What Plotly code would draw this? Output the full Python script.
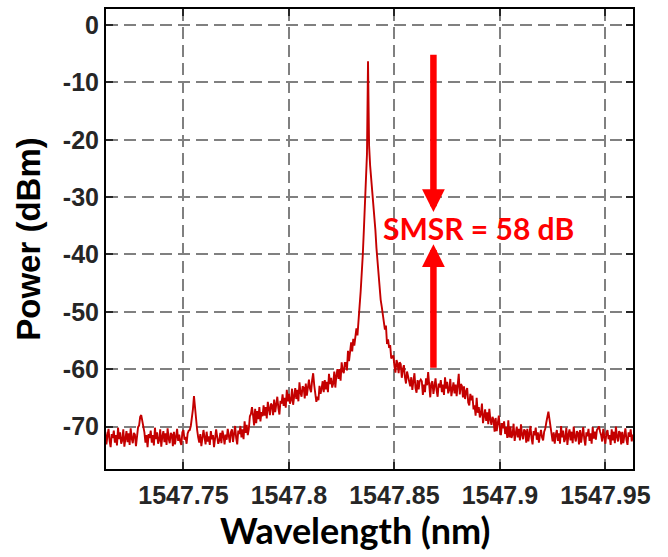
import plotly.graph_objects as go

# ---- data ----
WL_START = 1547.7130   # nm, first sample
WL_STEP = 0.0005       # nm, sample spacing

power_base_left = [
    -70.9, -73.1, -71.6, -70.4, -72.5, -73.6, -71.3, -72.0, -70.7, -72.8,
    -71.5, -73.3, -70.2, -72.2, -71.0, -73.0, -72.4, -70.5, -73.5, -71.7,
    -70.8, -72.7, -71.2, -73.2, -70.3, -72.1, -72.9, -71.1, -71.4, -73.4,
    -71.2, -70.1, -69.8, -68.3, -68.0, -69.0, -70.4, -71.0, -72.8, -71.5,
    -73.6, -71.3, -72.0, -70.7, -72.8, -71.5, -73.3, -70.2, -72.2, -71.0,
    -73.0, -72.4, -70.5, -73.5, -71.7, -70.8, -72.7, -71.2, -73.2, -70.3,
    -72.1, -72.9, -71.1, -71.4, -73.4, -70.9, -73.1, -71.6, -70.4, -72.5,
    -71.4, -72.6, -73.2, -71.0, -70.6, -72.3, -71.8, -73.0, -71.2, -70.7,
    -70.6, -69.9, -68.6, -67.0, -64.7, -66.9, -69.2, -70.6, -71.9, -72.8,
    -71.3, -73.4, -72.0, -70.6, -71.9, -73.1, -70.9, -72.6, -71.7, -73.2,
    -70.8, -72.2, -71.5, -73.6, -72.1, -70.5, -71.8, -73.0, -72.4, -71.1,
    -72.9, -70.7, -71.6, -73.1, -71.4, -72.3, -70.4, -71.9, -72.8, -71.0,
]

power_rise = [
    -70.5, -72.7, -71.2, -69.9, -72.0, -73.1, -70.7, -71.3, -69.9, -71.9,
    -70.5, -72.2, -69.1, -71.1, -69.7, -71.5, -70.4, -68.2, -67.8, -66.6,
    -68.0, -69.8, -66.9, -69.4, -67.3, -68.7, -66.6, -69.1, -67.5, -68.2,
    -66.3, -68.1, -66.6, -68.6, -65.7, -67.3, -68.0, -66.0, -66.3, -68.0,
    -65.3, -67.5, -66.0, -64.8, -66.8, -67.9, -65.5, -66.0, -64.4, -66.4,
    -65.0, -66.7, -63.6, -65.6, -64.3, -66.0, -65.4, -63.4, -66.2, -64.4,
    -63.3, -65.2, -63.6, -65.6, -62.3, -64.1, -64.8, -63.0, -63.2, -65.1,
    -62.5, -64.6, -63.0, -61.8, -63.4, -64.0, -61.9, -60.7, -62.8, -64.4,
    -65.7, -64.8, -65.4, -62.9, -64.3, -63.4, -62.1, -64.0, -61.9, -63.5,
    -62.2, -64.0, -60.8, -62.6, -61.5, -63.2, -62.5, -60.4, -63.2, -61.1,
    -60.0, -61.7, -60.0, -62.0, -58.8, -60.3, -60.7, -58.9, -58.9, -60.2,
    -56.8, -58.6, -56.4, -55.3, -56.9, -54.7, -55.9, -53.6, -52.9, -54.1,
    -50.5, -49.0, -46.5, -43.8, -40.2, -36.0, -31.8, -27.5, -22.5,
]

power_peak = [-6.3]

power_fall = [
    -21.0, -24.5, -26.8, -28.6, -30.4, -33.0, -35.8, -38.9, -41.6, -44.2,
    -46.0, -47.9, -49.1, -50.4, -51.0, -53.1, -52.4, -55.6, -54.8, -56.3,
    -55.8, -58.1, -57.9, -57.6, -59.4, -60.6, -58.4, -59.0, -60.7, -58.8,
    -59.1, -61.5, -60.0, -59.3, -61.4, -62.5, -60.4, -61.2, -61.9, -63.0,
    -61.4, -63.6, -62.1, -60.7, -63.3, -64.1, -61.9, -63.5, -62.1, -61.8,
    -62.1, -64.5, -62.7, -64.0, -61.6, -62.8, -60.5, -63.4, -64.9, -62.5,
    -62.1, -64.3, -62.8, -61.6, -63.7, -64.8, -62.5, -63.2, -61.9, -64.0,
    -62.7, -64.5, -61.4, -63.4, -62.2, -64.2, -63.6, -61.7, -64.7, -62.9,
]

power_tail = [
    -62.3, -64.2, -62.7, -64.7, -61.8, -60.8, -64.4, -62.6, -62.9, -64.9,
    -63.0, -65.2, -63.9, -63.3, -65.8, -66.3, -64.3, -65.4, -64.6, -67.0,
    -66.3, -68.1, -65.0, -67.6, -66.6, -68.4, -67.8, -66.0, -69.4, -67.7,
    -67.0, -69.0, -67.5, -69.6, -66.9, -68.8, -69.7, -68.3, -68.8, -70.9,
    -68.5, -70.8, -69.3, -68.1, -70.3, -71.5, -69.4, -70.3, -69.1, -71.3,
    -70.1, -72.0, -68.9, -71.9, -70.0, -72.0, -71.4, -69.5, -72.5, -70.8,
    -70.0, -71.9, -70.4, -72.4, -69.6, -71.4, -72.2, -70.5, -70.8, -72.8,
    -70.4, -72.6, -71.1, -69.9, -72.0, -73.1, -70.8, -71.5, -70.2, -72.3,
    -71.0, -72.8, -71.5, -70.6, -71.9, -72.4, -70.9, -70.4, -69.3, -68.3,
    -67.4, -68.7, -70.0, -71.2, -72.6, -71.0, -73.0, -71.4, -70.6, -72.5,
    -71.2, -73.0, -69.9, -71.9, -70.7, -72.7, -72.1, -70.2, -73.2, -71.4,
    -70.5, -72.4, -70.9, -72.9, -70.0, -71.8, -72.6, -70.8, -71.1, -73.1,
    -70.6, -72.8, -71.3, -70.1, -72.2, -73.3, -71.0, -71.7, -70.4, -72.5,
    -71.2, -73.0, -70.1, -72.1, -70.9, -72.3, -70.6, -70.3, -70.0, -70.9,
    -71.5, -72.6, -70.4, -71.8, -73.0, -71.1, -70.6, -72.2, -71.5, -73.2,
    -70.5, -72.4, -70.9, -72.9, -70.0, -71.8, -72.6, -70.8, -71.1, -73.1,
    -70.9, -72.9, -71.3, -70.3, -72.3, -73.2, -71.0, -71.8, -70.5, -72.6, -71.4,
]

x_tickvals = [1547.75, 1547.80, 1547.85, 1547.90, 1547.95]
x_ticktext = ["1547.75", "1547.8", "1547.85", "1547.9", "1547.95"]
y_tickvals = [0, -10, -20, -30, -40, -50, -60, -70]
y_ticktext = ["0", "-10", "-20", "-30", "-40", "-50", "-60", "-70"]

# annotation geometry (data units)
ARROW_X = 1547.8685
TOP_ARROW = (-4.9, -32.6)     # tail, tip
BOT_ARROW = (-60.0, -38.2)    # tail, tip
LABEL_X, LABEL_Y = 1547.8897, -35.4
LABEL_TEXT = "SMSR = 58 dB"

power = power_base_left + power_rise + power_peak + power_fall + power_tail
wavelength = [round(WL_START + WL_STEP * i, 4) for i in range(len(power))]

fig = go.Figure()
fig.add_trace(go.Scatter(
    x=wavelength, y=power, mode="lines",
    line=dict(color="#C40000", width=1.9),
    showlegend=False,
))

for tail, tip in (TOP_ARROW, BOT_ARROW):
    fig.add_annotation(
        x=ARROW_X, y=tip, ax=ARROW_X, ay=tail,
        xref="x", yref="y", axref="x", ayref="y",
        showarrow=True, arrowhead=2, arrowsize=0.7, arrowwidth=6.5,
        arrowcolor="#FF0000", text="",
    )

fig.add_annotation(
    x=LABEL_X, y=LABEL_Y, xref="x", yref="y", text=LABEL_TEXT,
    showarrow=False,
    font=dict(family="Lato", size=30, color="#FF0000", weight="bold"),
)

# x-axis title as a text box (offset left of the axes centre as in the source)
fig.add_annotation(
    x=0.4725, y=-0.132, xref="paper", yref="paper",
    text="Wavelength (nm)", showarrow=False,
    xanchor="center", yanchor="middle",
    font=dict(family="Lato", size=36, color="black", weight="bold"),
)

axis_common = dict(
    showline=True, linecolor="black", linewidth=2, mirror="ticks",
    ticks="inside", ticklen=7, tickwidth=1.5, tickcolor="#262626",
    showgrid=True, gridcolor="#808080", gridwidth=2, griddash="12px,6px",
    zeroline=False,
    tickfont=dict(family="Liberation Sans", size=25, color="#262626", weight="bold"),
)

fig.update_xaxes(
    range=[1547.7133, 1547.9631], tickvals=x_tickvals, ticktext=x_ticktext,
    ticklabelstandoff=3,
    **axis_common,
)
fig.update_yaxes(
    range=[-77.4, 2.8], tickvals=y_tickvals, ticktext=y_ticktext,
    title=dict(text="Power (dBm)", standoff=12,
               font=dict(family="Liberation Sans", size=33, color="black", weight="bold")),
    **axis_common,
)

fig.update_layout(
    width=668, height=557,
    margin=dict(l=106, r=35, t=7, b=88),
    plot_bgcolor="white", paper_bgcolor="white",
)

fig.write_html("out.html")
